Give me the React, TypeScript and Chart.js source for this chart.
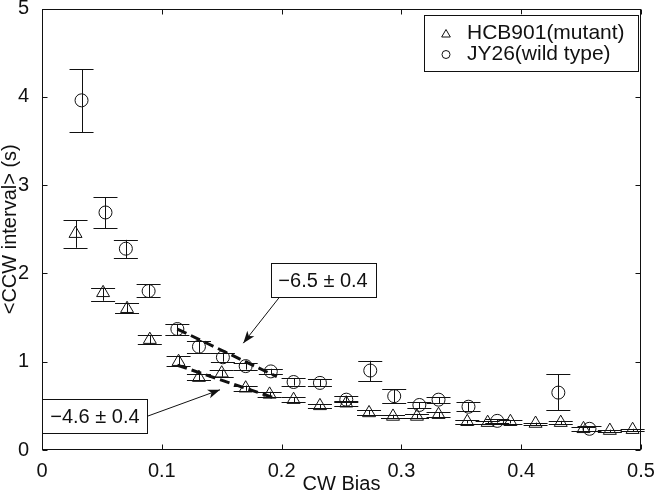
import React, { useEffect, useRef } from 'react';
import { Chart, registerables } from 'chart.js';

Chart.register(...registerables);

// ---- data ----
const mutantX = [0.028, 0.051, 0.071, 0.090, 0.114, 0.131, 0.150, 0.170, 0.190, 0.210, 0.232, 0.254, 0.273, 0.293, 0.313, 0.331, 0.355, 0.372, 0.391, 0.412, 0.433, 0.452, 0.474, 0.493];
const mutantY = [2.45, 1.78, 1.60, 1.25, 1.00, 0.82, 0.87, 0.70, 0.63, 0.57, 0.50, 0.53, 0.42, 0.38, 0.38, 0.40, 0.32, 0.31, 0.32, 0.30, 0.31, 0.24, 0.22, 0.23];
const mutantLo = [2.29, 1.69, 1.55, 1.20, 0.95, 0.79, 0.83, 0.67, 0.60, 0.54, 0.47, 0.50, 0.40, 0.36, 0.36, 0.37, 0.30, 0.29, 0.30, 0.28, 0.29, 0.22, 0.20, 0.21];
const mutantHi = [2.60, 1.84, 1.66, 1.30, 1.06, 0.86, 0.91, 0.73, 0.66, 0.60, 0.52, 0.56, 0.45, 0.40, 0.41, 0.43, 0.34, 0.33, 0.34, 0.31, 0.33, 0.26, 0.23, 0.24];

const wildX = [0.033, 0.053, 0.070, 0.089, 0.113, 0.131, 0.151, 0.170, 0.191, 0.210, 0.232, 0.254, 0.274, 0.294, 0.315, 0.331, 0.356, 0.380, 0.431, 0.457];
const wildY = [3.96, 2.69, 2.28, 1.80, 1.37, 1.17, 1.05, 0.95, 0.89, 0.77, 0.76, 0.57, 0.90, 0.61, 0.51, 0.57, 0.49, 0.33, 0.65, 0.24];
const wildLo = [3.60, 2.51, 2.17, 1.73, 1.30, 1.10, 1.00, 0.91, 0.86, 0.73, 0.72, 0.54, 0.78, 0.53, 0.47, 0.53, 0.44, 0.31, 0.45, 0.22];
const wildHi = [4.31, 2.86, 2.38, 1.88, 1.43, 1.23, 1.10, 0.99, 0.92, 0.81, 0.80, 0.61, 1.01, 0.69, 0.54, 0.60, 0.54, 0.35, 0.86, 0.27];

const fitHighX = [0.113, 0.196];
const fitHighY = [1.37, 0.83];
const fitLowX = [0.113, 0.196];
const fitLowY = [0.96, 0.58];

const xTicks = [0, 0.1, 0.2, 0.3, 0.4, 0.5];
const yTicks = [0, 1, 2, 3, 4, 5];
const seriesLabels = ['HCB901(mutant)', 'JY26(wild type)'];
const slopeLabels = ['\u22126.5 \u00b1 0.4', '\u22124.6 \u00b1 0.4'];
const xTitle = 'CW Bias';
const yTitle = '<CCW interval> (s)';

const FONT = '"Liberation Sans", Arial, Helvetica, sans-serif';
const INK = '#111';

const pts = (xs: number[], ys: number[]) => xs.map((x, i) => ({ x, y: ys[i] }));

const errorBarPlugin = {
  id: 'errorBars',
  beforeDatasetsDraw(chart: any) {
    const { ctx, scales } = chart;
    ctx.save();
    ctx.strokeStyle = INK;
    ctx.lineWidth = 1;
    chart.data.datasets.forEach((ds: any) => {
      if (!ds.errLo) return;
      ds.data.forEach((p: any, i: number) => {
        const px = scales.x.getPixelForValue(p.x);
        const y1 = scales.y.getPixelForValue(ds.errLo[i]);
        const y2 = scales.y.getPixelForValue(ds.errHi[i]);
        const cx = Math.round(px) + 0.5;
        ctx.beginPath();
        ctx.moveTo(cx, y1);
        ctx.lineTo(cx, y2);
        ctx.moveTo(px - 12, Math.round(y1) + 0.5);
        ctx.lineTo(px + 12, Math.round(y1) + 0.5);
        ctx.moveTo(px - 12, Math.round(y2) + 0.5);
        ctx.lineTo(px + 12, Math.round(y2) + 0.5);
        ctx.stroke();
      });
    });
    ctx.restore();
  },
};

const framePlugin = {
  id: 'frame',
  afterDatasetsDraw(chart: any) {
    const { ctx, chartArea: a, scales } = chart;
    ctx.save();
    ctx.strokeStyle = INK;
    ctx.lineWidth = 1;
    const L = Math.round(a.left) + 0.5;
    const R = Math.round(a.right) - 0.5;
    const T = Math.round(a.top) + 0.5;
    const B = Math.round(a.bottom) - 0.5;
    ctx.strokeRect(L, T, R - L, B - T);
    ctx.beginPath();
    xTicks.forEach((v) => {
      const p = Math.round(scales.x.getPixelForValue(v)) + 0.5;
      ctx.moveTo(p, B); ctx.lineTo(p, B - 5);
      ctx.moveTo(p, T); ctx.lineTo(p, T + 5);
    });
    yTicks.forEach((v) => {
      const p = Math.round(scales.y.getPixelForValue(v)) + 0.5;
      ctx.moveTo(L, p); ctx.lineTo(L + 5, p);
      ctx.moveTo(R, p); ctx.lineTo(R - 5, p);
    });
    ctx.stroke();
    ctx.restore();
  },
};

function drawTri(ctx: CanvasRenderingContext2D, x: number, y: number, r: number) {
  ctx.beginPath();
  for (let k = 0; k < 3; k++) {
    const a = (k * 2 * Math.PI) / 3;
    const px = x + Math.sin(a) * r;
    const py = y - Math.cos(a) * r;
    if (k === 0) ctx.moveTo(px, py); else ctx.lineTo(px, py);
  }
  ctx.closePath();
  ctx.stroke();
}

const legendPlugin = {
  id: 'boxLegend',
  afterDraw(chart: any) {
    const { ctx, chartArea: a } = chart;
    ctx.save();
    const right = a.right - 3;
    const left = right - 214;
    const top = a.top + 6;
    const h = 56;
    ctx.fillStyle = '#fff';
    ctx.fillRect(left, top, right - left, h);
    ctx.strokeStyle = INK;
    ctx.lineWidth = 1;
    ctx.strokeRect(Math.round(left) + 0.5, Math.round(top) + 0.5, Math.round(right - left), h);
    ctx.font = `21px ${FONT}`;
    ctx.fillStyle = INK;
    ctx.textBaseline = 'middle';
    ctx.textAlign = 'left';
    const rows = [top + 19, top + 40];
    drawTri(ctx, left + 22, rows[0] + 1, 5);
    ctx.beginPath();
    ctx.arc(left + 22, rows[1], 4, 0, Math.PI * 2);
    ctx.stroke();
    ctx.fillText(seriesLabels[0], left + 43, rows[0]);
    ctx.fillText(seriesLabels[1], left + 43, rows[1]);
    ctx.restore();
  },
};

const slopeNotes = [
  { text: slopeLabels[0], cx: 0.2346, cy: 1.92, tailX: 0.198, tipX: 0.168, tipY: 1.21, from: 'bottom' },
  { text: slopeLabels[1], cx: 0.0442, cy: 0.383, tailX: 0, tipX: 0.1486, tipY: 0.682, from: 'right' },
];

const notePlugin = {
  id: 'slopeNotes',
  afterDatasetsDraw(chart: any) {
    const { ctx, scales } = chart;
    ctx.save();
    ctx.font = `20px ${FONT}`;
    slopeNotes.forEach((n) => {
      const cx = scales.x.getPixelForValue(n.cx);
      const cy = scales.y.getPixelForValue(n.cy);
      const w = Math.round(ctx.measureText(n.text).width + 16);
      const h = 34;
      const l = Math.round(cx - w / 2) + 0.5;
      const t = Math.round(cy - h / 2) + 0.5;
      ctx.fillStyle = '#fff';
      ctx.fillRect(l, t, w, h);
      ctx.strokeStyle = INK;
      ctx.lineWidth = 1;
      ctx.strokeRect(l, t, w, h);
      ctx.fillStyle = INK;
      ctx.textAlign = 'center';
      ctx.textBaseline = 'middle';
      ctx.fillText(n.text, cx, cy + 1);
      let sx: number, sy: number;
      if (n.from === 'bottom') { sx = scales.x.getPixelForValue(n.tailX); sy = t + h; }
      else { sx = l + w; sy = cy; }
      const ex = scales.x.getPixelForValue(n.tipX);
      const ey = scales.y.getPixelForValue(n.tipY);
      ctx.beginPath();
      ctx.moveTo(sx, sy);
      ctx.lineTo(ex, ey);
      ctx.stroke();
      const ang = Math.atan2(ey - sy, ex - sx);
      ctx.beginPath();
      ctx.moveTo(ex, ey);
      ctx.lineTo(ex - 13 * Math.cos(ang - 0.35), ey - 13 * Math.sin(ang - 0.35));
      ctx.lineTo(ex - 9 * Math.cos(ang), ey - 9 * Math.sin(ang));
      ctx.lineTo(ex - 13 * Math.cos(ang + 0.35), ey - 13 * Math.sin(ang + 0.35));
      ctx.closePath();
      ctx.fill();
    });
    ctx.restore();
  },
};

export default function App() {
  const ref = useRef<HTMLCanvasElement | null>(null);
  useEffect(() => {
    if (!ref.current) return;
    const tickFont = { family: FONT, size: 20, lineHeight: 1.2 };
    const yTitleFont = { family: FONT, size: 20, lineHeight: 1.0 };
    const chart = new Chart(ref.current, {
      type: 'scatter',
      data: {
        datasets: [
          {
            label: 'fit high',
            data: pts(fitHighX, fitHighY),
            showLine: true,
            borderColor: INK,
            borderWidth: 3,
            borderDash: [10, 5],
            pointRadius: 0,
            fill: false,
          } as any,
          {
            label: 'fit low',
            data: pts(fitLowX, fitLowY),
            showLine: true,
            borderColor: INK,
            borderWidth: 3,
            borderDash: [10, 5],
            pointRadius: 0,
            fill: false,
          } as any,
          {
            label: seriesLabels[0],
            data: pts(mutantX, mutantY),
            errLo: mutantLo,
            errHi: mutantHi,
            pointStyle: 'triangle',
            pointRadius: 7.5,
            borderColor: INK,
            borderWidth: 1,
            backgroundColor: 'rgba(0,0,0,0)',
          } as any,
          {
            label: seriesLabels[1],
            data: pts(wildX, wildY),
            errLo: wildLo,
            errHi: wildHi,
            pointStyle: 'circle',
            pointRadius: 6.5,
            borderColor: INK,
            borderWidth: 1,
            backgroundColor: 'rgba(0,0,0,0)',
          } as any,
        ],
      },
      options: {
        animation: false,
        responsive: false,
        devicePixelRatio: 1,
        layout: { padding: { top: 7, right: 19, left: 0, bottom: 0 } },
        plugins: { legend: { display: false }, tooltip: { enabled: false } },
        scales: {
          x: {
            type: 'linear',
            min: 0,
            max: 0.5,
            afterBuildTicks: (s: any) => { s.ticks = xTicks.map((v) => ({ value: v })); },
            afterFit: (s: any) => { s.height = 47; s.paddingLeft = 0; s.paddingRight = 0; },
            grid: { display: false },
            border: { display: false },
            ticks: {
              font: tickFont,
              color: INK,
              padding: 1,
              maxRotation: 0,
              autoSkip: false,
              callback: (v: any) => String(Math.round(Number(v) * 10) / 10),
            },
            title: { display: true, text: xTitle, font: tickFont, color: INK, padding: { top: 0, bottom: 1 } },
          },
          y: {
            type: 'linear',
            min: 0,
            max: 5,
            afterBuildTicks: (s: any) => { s.ticks = yTicks.map((v) => ({ value: v })); },
            afterFit: (s: any) => { s.width = 42; s.paddingTop = 0; s.paddingBottom = 0; },
            grid: { display: false },
            border: { display: false },
            ticks: {
              font: tickFont,
              color: INK,
              padding: 5,
              autoSkip: false,
              callback: (v: any) => String(v),
            },
            title: { display: true, text: yTitle, font: yTitleFont, color: INK, padding: { top: 0, bottom: 0 } },
          },
        },
      },
      plugins: [errorBarPlugin, framePlugin, notePlugin, legendPlugin],
    });
    return () => chart.destroy();
  }, []);
  return (
    <div style={{ position: 'absolute', left: 0, top: 0, width: 660, height: 497, background: '#fff' }}>
      <canvas ref={ref} width={660} height={497} style={{ width: 660, height: 497, display: 'block' }} />
    </div>
  );
}
